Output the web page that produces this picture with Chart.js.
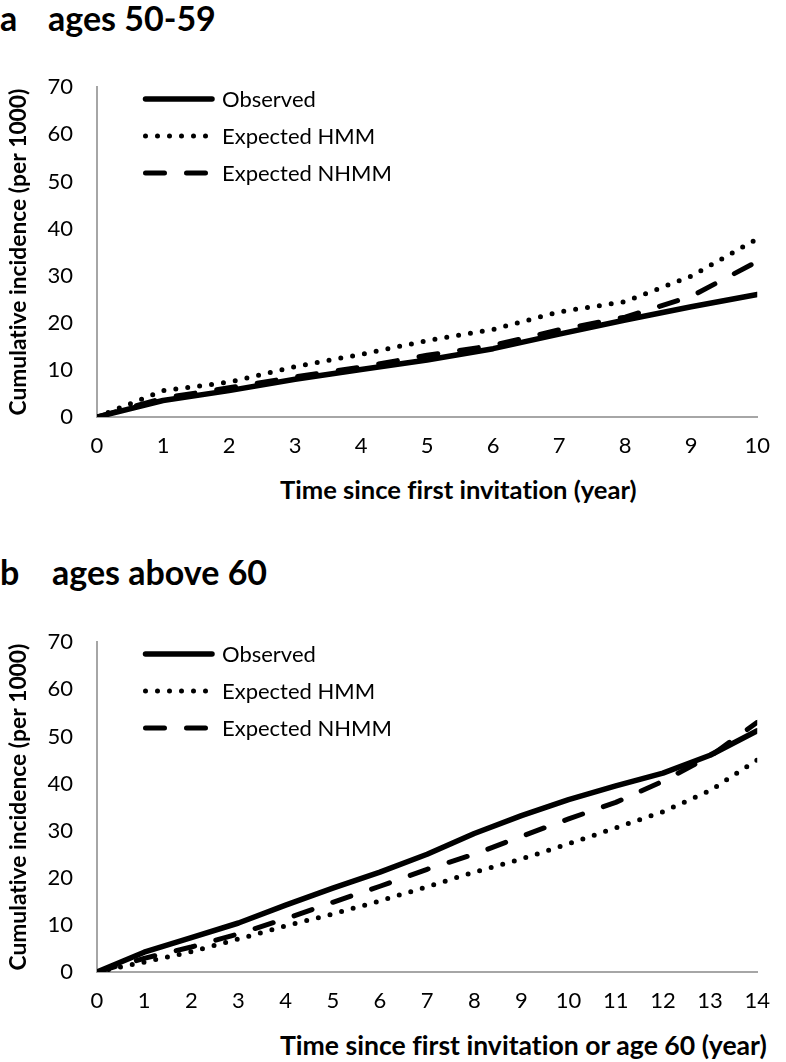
<!DOCTYPE html>
<html><head><meta charset="utf-8">
<script src="https://cdn.jsdelivr.net/npm/chart.js@4.4.1/dist/chart.umd.min.js"></script>
<style>
html,body{margin:0;padding:0;background:#fff;}
body{width:786px;height:1062px;position:relative;overflow:hidden;font-family:Lato,"Open Sans",sans-serif;font-variant-ligatures:none;font-feature-settings:"liga" 0,"clig" 0;}
.t{position:absolute;white-space:nowrap;font-weight:bold;color:#000;line-height:1;font-variant-ligatures:none;font-feature-settings:"liga" 0,"clig" 0;}
.ptitle{font-size:34px;}
canvas{position:absolute;left:0;}
</style></head><body>
<div class="t ptitle" style="left:0;top:1px">a</div>
<div class="t ptitle" style="left:48px;top:1px">ages 50-59</div>
<canvas id="cA" width="786" height="420" style="top:50px"></canvas>
<div class="t" style="left:280px;top:477px;font-size:25.6px">Time since first invitation (year)</div>
<div class="t ptitle" style="left:0;top:555px">b</div>
<div class="t ptitle" style="left:52px;top:555px">ages above 60</div>
<canvas id="cB" width="786" height="420" style="top:605px"></canvas>
<div class="t" style="left:280px;top:1032px;font-size:26.6px">Time since first invitation or age 60 (year)</div>
<script>
// ---- Data ----
const seriesLabels = ["Observed", "Expected HMM", "Expected NHMM"];
const yTicks = [0, 10, 20, 30, 40, 50, 60, 70];

// Panel a: ages 50-59
const yearsA = [0, 1, 2, 3, 4, 5, 6, 7, 8, 9, 10];
const observedA = [0, 3.5, 5.6, 8.0, 10.1, 12.1, 14.5, 17.6, 20.6, 23.4, 26.0];
const hmmA      = [0, 5.6, 7.4, 10.7, 13.3, 16.2, 18.6, 22.3, 24.5, 29.9, 37.8];
const nhmmA     = [0, 4.0, 6.2, 8.5, 10.6, 13.1, 15.2, 18.5, 21.2, 25.6, 33.0];

// Panel b: ages above 60
const yearsB = [0, 1, 2, 3, 4, 5, 6, 7, 8, 9, 10, 11, 12, 13, 14];
const observedB = [0, 4.2, 7.3, 10.4, 14.2, 17.8, 21.2, 25.0, 29.4, 33.2, 36.6, 39.5, 42.2, 46.0, 51.2];
const hmmB      = [0, 2.1, 4.3, 7.0, 9.8, 12.3, 15.1, 18.1, 21.2, 24.0, 27.2, 30.6, 34.0, 38.5, 45.0];
const nhmmB     = [0, 2.9, 5.3, 8.1, 11.3, 14.8, 18.2, 21.8, 25.0, 28.8, 32.5, 36.0, 40.5, 45.8, 53.0];

// ---- Styles ----
const FONT = "Lato";
const styles = [
  {borderWidth: 5.5, borderDash: [], borderCapStyle: "round"},
  {borderWidth: 5, borderDash: [0, 12], borderCapStyle: "round"},
  {borderWidth: 5, borderDash: [19, 22], borderCapStyle: "round"}
];

const insideLegend = {
  id: "insideLegend",
  afterDatasetsDraw(chart, args, opts) {
    const ctx = chart.ctx;
    ctx.save();
    chart.data.datasets.forEach((ds, i) => {
      const y = opts.top + i * opts.rowGap;
      ctx.beginPath();
      ctx.lineWidth = ds.borderWidth;
      ctx.strokeStyle = ds.borderColor;
      ctx.lineCap = ds.borderCapStyle;
      ctx.setLineDash(ds.borderDash);
      ctx.moveTo(opts.x0, y);
      ctx.lineTo(opts.x1, y);
      ctx.stroke();
      ctx.setLineDash([]);
      ctx.fillStyle = "#000";
      ctx.font = opts.fontSize + "px " + FONT;
      ctx.textBaseline = "middle";
      ctx.textAlign = "left";
      ctx.fillText(ds.label, opts.textX, y + 1);
    });
    ctx.restore();
  }
};

function build(id, years, series, xMax) {
  const datasets = series.map((vals, i) => Object.assign({
    label: seriesLabels[i],
    data: years.map((x, j) => ({x: x, y: vals[j]})),
    borderColor: "#000",
    backgroundColor: "#000",
    pointRadius: 0,
    tension: 0,
    fill: false,
    borderJoinStyle: "round"
  }, styles[i]));
  return new Chart(document.getElementById(id), {
    type: "line",
    data: {datasets: datasets},
    options: {
      responsive: false,
      animation: false,
      events: [],
      layout: {padding: {top: 27, right: 13, left: 0, bottom: 0}},
      plugins: {
        legend: {display: false},
        tooltip: {enabled: false},
        insideLegend: {x0: 145.5, x1: 212, textX: 222, top: 49, rowGap: 37, fontSize: 22}
      },
      scales: {
        x: {
          type: "linear", min: 0, max: xMax,
          grid: {display: false, drawTicks: false},
          border: {display: true, color: "#a6a6a6", width: 2},
          ticks: {stepSize: 1, color: "#000", font: {family: FONT, size: 22}, padding: 16, maxRotation: 0, autoSkip: false},
          afterFit(s) { s.height = 53; }
        },
        y: {
          min: 0, max: 70,
          grid: {display: false, drawTicks: false},
          border: {display: true, color: "#a6a6a6", width: 2},
          afterBuildTicks(s) { s.ticks = yTicks.map(v => ({value: v})); },
          ticks: {color: "#000", font: {family: FONT, size: 22}, padding: 24},
          title: {display: true, text: "Cumulative incidence (per 1000)", color: "#000",
                  font: {family: FONT, size: 22.8, weight: "bold"}, padding: {top: 5, bottom: 0}},
          afterFit(s) { s.width = 97; }
        }
      }
    },
    plugins: [insideLegend]
  });
}

build("cA", yearsA, [observedA, hmmA, nhmmA], 10);
build("cB", yearsB, [observedB, hmmB, nhmmB], 14);
</script>
</body></html>
